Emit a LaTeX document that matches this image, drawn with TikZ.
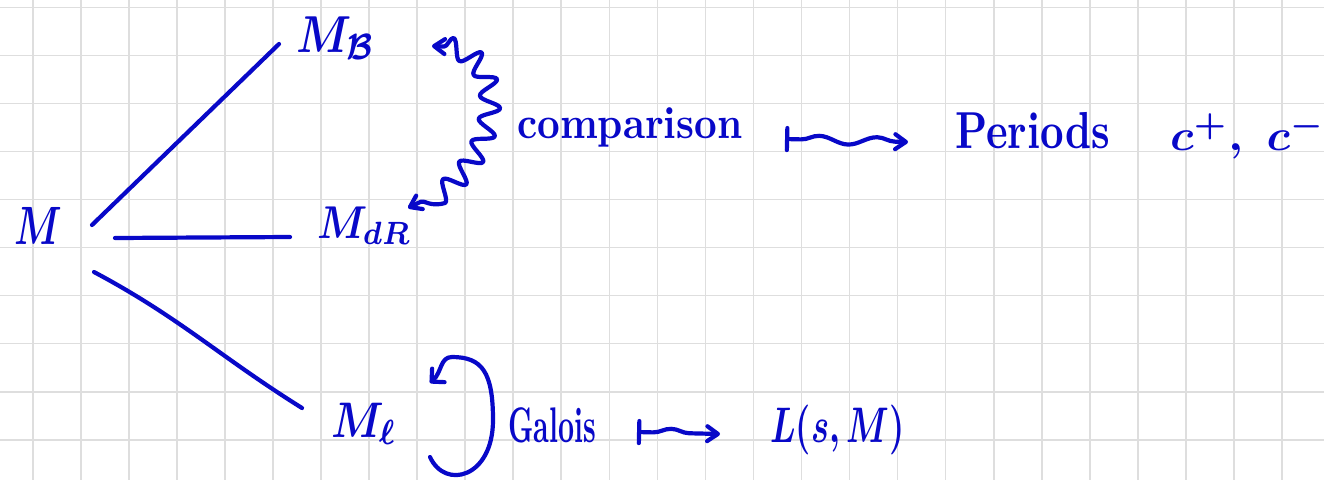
\documentclass[tikz,border=0pt]{standalone}
\usepackage{graphicx}
\usetikzlibrary{arrows.meta,decorations.pathmorphing,calc}
\definecolor{ink}{RGB}{8,8,200}
\definecolor{gridc}{RGB}{222,222,222}
\newcommand{\sclmath}[3]{\scalebox{#1}[#2]{\boldmath$#3$}}
\newcommand{\scltext}[3]{\scalebox{#1}[#2]{\bfseries #3}}
\tikzset{
  gridline/.style={gridc, line width=1.6pt},
  pen/.style={ink, line width=4.2pt, line cap=round, line join=round},
  lbl/.style={ink, inner sep=0pt, anchor=base west, font=\fontsize{10}{12}\selectfont},
  chev/.tip={Straight Barb[angle=70:13pt, round]},
  hook/.tip={Straight Barb[angle=90:13pt, round]},
  mbar/.tip={Bar[width=22pt, round]},
  wavy/.style={decorate, decoration={snake, amplitude=10pt, segment length=26pt, pre length=12pt, post length=12pt}},
  wave/.style={decorate, decoration={snake, amplitude=4pt, segment length=58pt, pre length=16pt, post length=12pt}}
}
\begin{document}
\begin{tikzpicture}[x=1pt, y=-1pt]
\useasboundingbox (0,0) rectangle (1324,480);
\fill[white] (0,0) rectangle (1324,480);
\foreach \i in {0,...,26} \draw[gridline] (32.7+48.05*\i,0) -- (32.7+48.05*\i,480);
\foreach \j in {0,...,9} \draw[gridline] (0,7.3+48.05*\j) -- (1324,7.3+48.05*\j);

\node[lbl] (M) at (14,244) {\sclmath{3.8}{5.4}{M}};
\node[lbl] (MB) at (296,52) {\sclmath{4.4}{5.2}{M_{\mathcal{B}}}};
\node[lbl] (MdR) at (317,238) {\sclmath{4.0}{4.6}{M_{dR}}};
\node[lbl] (Ml) at (331,437) {\sclmath{4.2}{5.0}{M_{\ell}}};
\node[lbl] (cmp) at (517,138) {\scltext{3.95}{4.5}{comparison}};
\node[lbl] (per) at (955,148) {\scltext{4.1}{5.2}{Periods}};
\node[lbl] (cpm) at (1170,150) {\sclmath{4.6}{4.4}{c^{+},\; c^{-}}};
\node[lbl] (gal) at (508,442) {\scltext{2.8}{5.0}{Galois}};
\node[lbl] (Lsm) at (770,442) {\sclmath{3.4}{5.0}{L(s,M)}};

% branches
\draw[pen] ($(M.base west)+(78,-19)$) -- ($(MB.base west)+(-17,-8)$);
\draw[pen] ($(M.base west)+(101,-6)$) -- ($(MdR.base west)+(-27,-1)$);
\draw[pen] ($(M.base west)+(80,28)$) to[out=-28,in=148] ($(Ml.base west)+(-29,-29)$);

% comparison squiggle
\draw[pen, chev-chev, wavy] ($(MB.base west)+(136,-6)$) .. controls (505,42) and (505,165) .. ($(MdR.base west)+(91,-30)$);

% maps-to squiggles
\draw[pen, mbar-chev, wave] ($(cmp.base west)+(268,1)$) -- ($(per.base west)+(-47,-6)$);
\draw[pen, mbar-chev, wave] ($(gal.base west)+(129,-10)$) -- ($(Lsm.base west)+(-50,-8)$);

% Galois loop
\draw[pen, -hook] ($(Ml.base west)+(99,20)$) .. controls (445,490) and (493,478) .. (493,420)
  .. controls (493,372) and (482,357) .. (452,357)
  .. controls (440,357) and (442,372) .. ($(Ml.base west)+(99,-54)$);
\end{tikzpicture}
\end{document}
